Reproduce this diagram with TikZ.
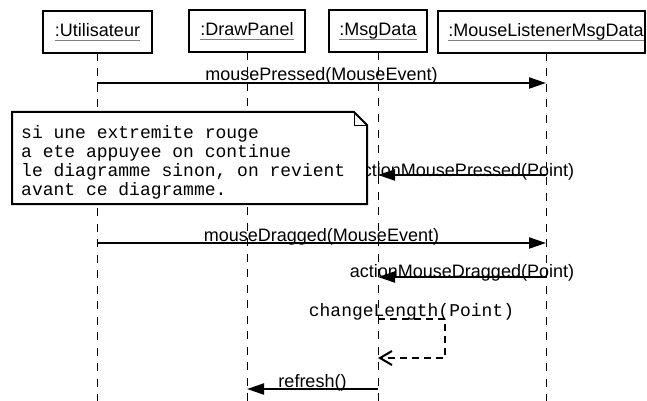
\documentclass[tikz,border=0pt]{standalone}
\usepackage{fontspec}
\setmainfont{Liberation Sans}
\newfontfamily\monof{Liberation Mono}
\usetikzlibrary{arrows.meta}
\begin{document}
\begin{tikzpicture}[x=1pt,y=-1pt,
  objbox/.style={draw, line width=2pt, inner sep=0pt, fill=white},
  lbl/.style={inner sep=0pt, font=\fontsize{18}{20}\selectfont},
  mlbl/.style={inner sep=0pt, font=\monof\fontsize{18}{19}\selectfont},
  ulline/.style={draw=gray, line width=1pt},
  life/.style={line width=1pt, dash pattern=on 8pt off 7.5pt},
  msgline/.style={line width=2pt, -{Triangle[length=17pt,width=11pt]}},
  retline/.style={line width=2pt, dash pattern=on 7pt off 5pt, -{Straight Barb[length=12pt,width=14pt]}}]
\useasboundingbox (0,0) rectangle (647,401);
\fill[white] (0,0) rectangle (647,401);

% object boxes
\node[objbox, minimum width=109pt, minimum height=42pt] (uB) at (97.5,32) {};
\node[objbox, minimum width=116pt, minimum height=42pt] (dB) at (247,31) {};
\node[objbox, minimum width=98pt, minimum height=42pt] (mB) at (378,31) {};
\node[objbox, minimum width=207pt, minimum height=42pt] (lB) at (541.5,32) {};

\node[lbl, anchor=base] (uL) at (97.5,37) {:Utilisateur};
\node[lbl, anchor=base] (dL) at (247,36) {:DrawPanel};
\node[lbl, anchor=base] (mL) at (378,36) {:MsgData};
\node[lbl, anchor=base] (lL) at (546,37) {:MouseListenerMsgData};
\foreach \n in {uL,dL,mL,lL}
  \draw[ulline] ([yshift=-4pt]\n.base west) -- ([yshift=-4pt]\n.base east);

% lifelines
\coordinate (uT) at (97,53);  \coordinate (uE) at (97,401);
\coordinate (dT) at (247,52); \coordinate (dE) at (247,401);
\coordinate (mT) at (378,52); \coordinate (mE) at (378,401);
\coordinate (lT) at (546,53); \coordinate (lE) at (546,401);
\draw[life] (uT) -- (uE);
\draw[life] (dT) -- (dE);
\draw[life] (mT) -- (mE);
\draw[life] (lT) -- (lE);

% message anchors
\coordinate (u1) at (97,83);   \coordinate (l1) at (546,83);
\coordinate (l2) at (546,175); \coordinate (m2) at (378,175);
\coordinate (u3) at (97,243);  \coordinate (l3) at (546,243);
\coordinate (l4) at (546,277); \coordinate (m4) at (378,277);
\coordinate (m5a) at (378,319); \coordinate (s5a) at (445,319);
\coordinate (s5b) at (445,358); \coordinate (m5b) at (378,358);
\coordinate (m6) at (378,389); \coordinate (d6) at (247,389);

\draw[msgline] (u1) -- (l1);
\node[lbl, anchor=base] (t1) at (321.5,81) {mousePressed(MouseEvent)};

\draw[msgline] (l2) -- (m2);
\node[lbl, anchor=base] (t2) at (463.5,176) {actionMousePressed(Point)};

\draw[msgline] (u3) -- (l3);
\node[lbl, anchor=base] (t3) at (321.5,241) {mouseDragged(MouseEvent)};

\draw[msgline] (l4) -- (m4);
\node[lbl, anchor=base] (t4) at (462,277) {actionMouseDragged(Point)};

\draw[retline] (m5a) -- (s5a) -- (s5b) -- (m5b);
\node[mlbl, anchor=base] (t5) at (411.5,316) {changeLength(Point)};

\draw[msgline] (m6) -- (d6);
\node[lbl, anchor=base] (t6) at (312.5,387) {refresh()};

% note
\draw[line width=2pt, fill=white, line join=miter]
  (12,112) -- (354,112) -- (367,125) -- (367,204) -- (12,204) -- cycle;
\draw[line width=1pt] (354,112) -- (354,125) -- (367,125);
\node[mlbl, anchor=base west, align=left] (note) at (21,195)
  {si une extremite rouge\\a ete appuyee on continue\\le diagramme sinon, on revient\\avant ce diagramme.};
\end{tikzpicture}
\end{document}
